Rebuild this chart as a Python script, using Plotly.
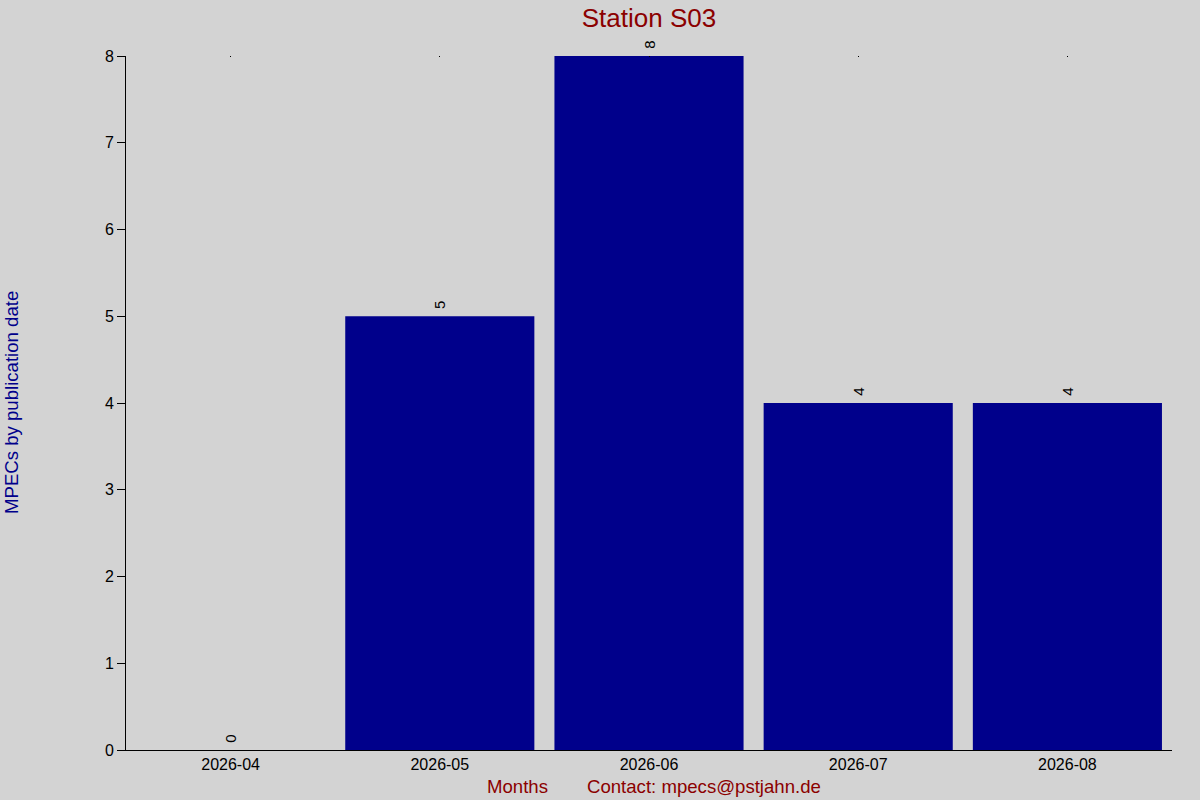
import plotly.graph_objects as go

months = ["2026-04", "2026-05", "2026-06", "2026-07", "2026-08"]
counts = [0, 5, 8, 4, 4]
y_ticks = [0, 1, 2, 3, 4, 5, 6, 7, 8]

dark_red = "#8b0000"
dark_blue = "#00008b"
font_family = "Liberation Sans, Arial, sans-serif"

fig = go.Figure()

fig.add_trace(go.Bar(
    x=months,
    y=counts,
    marker=dict(color=dark_blue, line=dict(width=0)),
    # leading nbsp gives a small gap between bar top and the rotated label
    text=["\u00a0" + str(c) for c in counts],
    textposition="outside",
    textangle=-90,
    textfont=dict(family=font_family, size=15, color="black"),
    cliponaxis=False,
    showlegend=False,
    hoverinfo="x+y",
))

fig.update_layout(
    width=1200,
    height=800,
    paper_bgcolor="#d3d3d3",
    plot_bgcolor="#d3d3d3",
    margin=dict(l=126, r=28, t=56, b=50),
    bargap=0.096,
    font=dict(family=font_family, size=16, color="black"),
    title=dict(
        text="Station S03",
        x=0.5, xref="paper", xanchor="center",
        y=0.978, yanchor="middle",
        font=dict(size=26, color=dark_red),
    ),
    xaxis=dict(
        type="category",
        range=[-0.5, len(months) - 0.5],
        showgrid=False,
        showline=True,
        linecolor="black",
        linewidth=1,
        ticks="",
        tickfont=dict(size=16),
        zeroline=False,
    ),
    xaxis2=dict(
        overlaying="x",
        side="top",
        matches="x",
        type="category",
        showgrid=False,
        showline=False,
        ticks="inside",
        ticklen=1,
        tickcolor="black",
        showticklabels=False,
        tickvals=months,
    ),
    yaxis=dict(
        range=[0, 8],
        tickvals=y_ticks,
        showgrid=False,
        showline=True,
        linecolor="black",
        linewidth=1,
        ticks="outside",
        ticklen=8,
        tickcolor="black",
        tickfont=dict(size=16),
        zeroline=False,
    ),
    annotations=[
        dict(
            text="MPECs by publication date",
            xref="paper", yref="paper",
            x=-115 / 1046, y=0.5,
            xanchor="center", yanchor="middle",
            textangle=-90, showarrow=False,
            font=dict(size=18.6, color=dark_blue),
        ),
        dict(
            text="Months",
            xref="paper", yref="paper",
            x=(517 - 126) / 1046, y=-36 / 694,
            xanchor="center", yanchor="middle",
            showarrow=False,
            font=dict(size=18.6, color=dark_red),
        ),
        dict(
            text="Contact: mpecs@pstjahn.de",
            xref="paper", yref="paper",
            x=(704 - 126) / 1046, y=-36 / 694,
            xanchor="center", yanchor="middle",
            showarrow=False,
            font=dict(size=18.6, color=dark_red),
        ),
    ],
)

# keep the top tick axis visible with an empty trace
fig.add_trace(go.Scatter(x=months, y=[None] * len(months), xaxis="x2",
                         showlegend=False, hoverinfo="skip"))

fig.write_html("out.html", config={"displayModeBar": False},
               post_script="document.body.style.margin='0px';")
